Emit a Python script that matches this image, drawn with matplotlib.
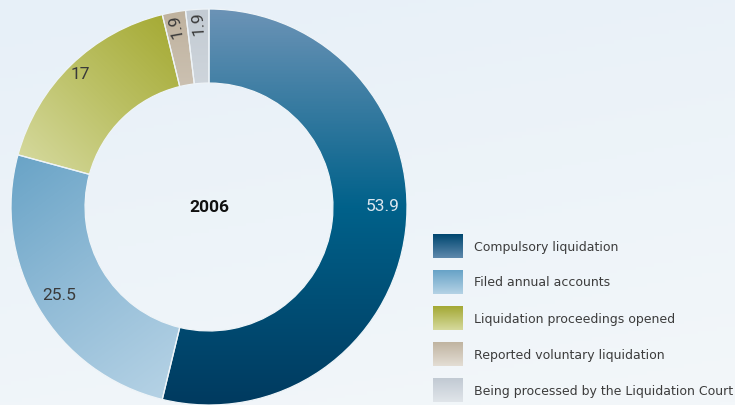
import numpy as np
import matplotlib.pyplot as plt
from matplotlib.colors import LinearSegmentedColormap

plt.rcParams['font.family'] = ['Roboto', 'DejaVu Sans']

categories = ['Compulsory liquidation', 'Filed annual accounts',
              'Liquidation proceedings opened', 'Reported voluntary liquidation',
              'Being processed by the Liquidation Court']
values = [53.9, 25.5, 17, 1.9, 1.9]
value_labels = ['53.9', '25.5', '17', '1.9', '1.9']
year = '2006'

# gradient colours per slice: start -> mid -> end, and direction (deg) start->end
slice_colors = [
    ['#6b93b6', '#00618a', '#003a5f'],
    ['#6aa4c7', '#92bcd7', '#b5d2e5'],
    ['#a6ab36', '#bcc166', '#d4d89b'],
    ['#bfb29e', '#cfc5b7', '#e2dbd2'],
    ['#c3cbd3', '#d2d8de', '#e3e7eb'],
]
grad_dir = [-90, -53, 225, -90, -90]
# legend swatches are vertical gradients (top colour, bottom colour)
swatch_colors = [
    ['#004770', '#5d88ac'],
    ['#68a3c7', '#b4d2e5'],
    ['#a4a935', '#d5d99c'],
    ['#c0b4a1', '#e3ddd4'],
    ['#c2cad3', '#e0e5ea'],
]
label_r = [0.875, 0.88, 0.93, 0.93, 0.93]
label_shift = [7, 0, 0, 0, 0]
label_color = ['#dce7ef', '#3a3a3a', '#3a3a3a', '#3a3a3a', '#3a3a3a']

W, H = 735, 405
fig = plt.figure(figsize=(W / 100, H / 100), dpi=100)

# background
bg = fig.add_axes([0, 0, 1, 1])
gx, gy = np.meshgrid(np.linspace(0, 1, 200), np.linspace(0, 1, 120))
bg_cmap = LinearSegmentedColormap.from_list('bg', ['#e7f0f8', '#f3f7fa'])
bg.imshow(0.75 * gy + 0.25 * gx, cmap=bg_cmap, extent=[0, W, H, 0], aspect='auto')
bg.axis('off')

# donut
cx, cy, R = 209, 405 - 207, 198
pad = 1.02
ax = fig.add_axes([(cx - R * pad) / W, (cy - R * pad) / H, 2 * R * pad / W, 2 * R * pad / H])

wedges, _ = ax.pie(values, startangle=90, counterclock=False, radius=1,
                   wedgeprops=dict(width=0.374, edgecolor='#eef4f8', linewidth=0.9))
ax.axis('off')

xs, ys = np.meshgrid(np.linspace(-1, 1, 400), np.linspace(-1, 1, 400))
for i, w in enumerate(wedges):
    a = np.deg2rad(grad_dir[i])
    d = np.array([np.cos(a), np.sin(a)])
    vv = w.get_path().vertices
    proj = vv @ d
    t = (xs * d[0] + ys * d[1] - proj.min()) / (proj.max() - proj.min())
    cmap = LinearSegmentedColormap.from_list('s%d' % i, slice_colors[i])
    im = ax.imshow(np.clip(t, 0, 1), cmap=cmap, vmin=0, vmax=1, extent=[-1, 1, -1, 1],
                   origin='lower', zorder=1)
    im.set_clip_path(w)
    w.set_facecolor('none')
    w.set_zorder(2)

    mid = (w.theta1 + w.theta2) / 2 + label_shift[i]
    r = label_r[i]
    x = r * np.cos(np.deg2rad(mid))
    y = r * np.sin(np.deg2rad(mid))
    rot = mid if values[i] < 5 else 0
    ax.text(x, y, value_labels[i], ha='center', va='center', rotation=rot,
            fontsize=12.5, color=label_color[i], zorder=3,
            rotation_mode='anchor')
# pie() resets the limits, so set them after drawing
ax.set_xlim(-pad, pad)
ax.set_ylim(-pad, pad)

ax.text(0, 0, year, ha='center', va='center', fontsize=12.5, fontweight='bold',
        color='#111111', zorder=3)

# legend
for i, name in enumerate(categories):
    top = 234 + i * 36
    cm = LinearSegmentedColormap.from_list('l%d' % i, swatch_colors[i])
    bg.imshow(np.linspace(0, 1, 50).reshape(-1, 1), cmap=cm, aspect='auto',
              extent=[433, 463, top + 24, top], zorder=2)
    bg.text(474, top + 13, name, ha='left', va='center', fontsize=9,
            family='DejaVu Sans', color='#3c3c3c', zorder=3)
bg.set_xlim(0, W)
bg.set_ylim(H, 0)

fig.savefig('out.png', dpi=100)
